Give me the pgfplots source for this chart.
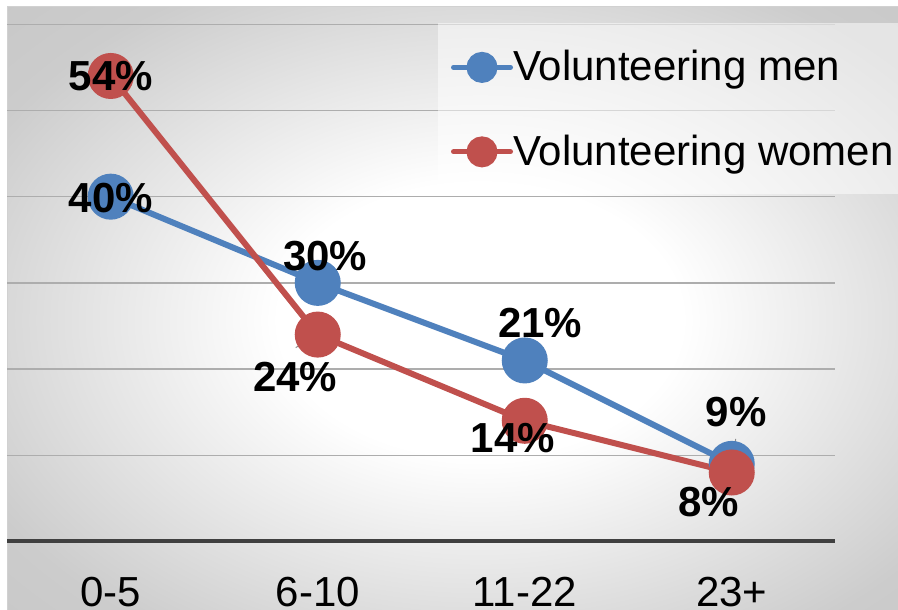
\documentclass[border=0pt]{standalone}
\usepackage{pgfplots}
\usepackage{pgfplotstable}
\pgfplotsset{compat=1.18}
\usepackage{fontspec}
\setmainfont{Liberation Sans}

\definecolor{menblue}{RGB}{79,129,189}
\definecolor{womenred}{RGB}{192,80,77}

% soft grey-to-white background of the chart area
\pgfdeclareradialshading{chartbg}{\pgfpoint{0bp}{0bp}}{%
  color(0bp)=(white); color(9bp)=(white); color(25bp)=(black!20); color(50bp)=(black!28)}

% x = category index, y = share, dx/dy = label offset from the marker (pt)
\pgfplotstableread{
x y dx dy
0 0.40 0 -1
1 0.30 7.5 26.5
2 0.21 15.5 37
3 0.09 4.5 52
}\mentable
\pgfplotstableread{
x y dx dy
0 0.54 0 0
1 0.24 -22.5 -42
2 0.14 -12 -17
3 0.08 -23 -30
}\womentable

\newcommand{\bigfont}{\fontsize{42}{50}\selectfont}

\begin{document}
\begin{tikzpicture}[x=1pt,y=1pt]
\useasboundingbox (0,0) rectangle (898,610);
\clip (0,0) rectangle (898,610);
\fill[white] (0,0) rectangle (898,610);
\begin{scope}
  \clip (7,0) rectangle (898,603);
  \shade[shading=chartbg] (-80,-90) rectangle (1040,670);
\end{scope}
\draw[black!18, line width=1pt] (7,0) -- (7,603) -- (898,603);

\begin{axis}[
  at={(3.5,79.5)}, anchor=south west, scale only axis,
  width=828pt, height=517.2pt,
  xmin=-0.5, xmax=3.5, ymin=0, ymax=0.6,
  axis line style={draw=none},
  /pgf/number format/assume math mode=true,
  xtick={0,1,2,3}, xticklabels={0-5,6-10,11-22,23+},
  ytick={0.1,0.2,0.3,0.4,0.5,0.6}, yticklabels={},
  ymajorgrids, grid style={black!32, line width=1.5pt},
  major tick length=0pt,
  extra y ticks={0}, extra y tick labels={},
  extra y tick style={grid style={black!75, line width=4pt}},
  xticklabel style={font=\bigfont, anchor=base, yshift=-65pt},
  clip=false,
  legend style={at={(0.52,1.002)}, anchor=north west,
    fill=white, fill opacity=0.5, text opacity=1, draw=none,
    font=\bigfont, inner xsep=13pt, inner ysep=27pt, row sep=52pt,
    nodes={inner sep=0pt}},
  legend cell align=left,
]
\addplot[menblue, line width=6pt, mark=*, mark size=20pt,
  mark options={draw=none, fill=menblue},
  point meta={100*\thisrow{y}},
  visualization depends on={\thisrow{dx} \as \labeldx},
  visualization depends on={\thisrow{dy} \as \labeldy},
  nodes near coords={\pgfmathprintnumber[fixed,precision=0,assume math mode=true]{\pgfplotspointmeta}\%},
  nodes near coords style={anchor=center, text=black, font=\bfseries\bigfont,
    xshift=\labeldx pt, yshift=\labeldy pt, inner sep=0pt},
  legend image code/.code={
    \draw[menblue, line width=5pt, line cap=round, opacity=1] (0pt,-1pt) -- (57pt,-1pt);
    \fill[menblue, opacity=1] (28.5pt,-1pt) circle[radius=12.5pt];}
] table[x=x, y=y] {\mentable};
\addlegendentry{Volunteering men}

\addplot[womenred, line width=6pt, mark=*, mark size=20pt,
  mark options={draw=none, fill=womenred},
  point meta={100*\thisrow{y}},
  visualization depends on={\thisrow{dx} \as \labeldx},
  visualization depends on={\thisrow{dy} \as \labeldy},
  nodes near coords={\pgfmathprintnumber[fixed,precision=0,assume math mode=true]{\pgfplotspointmeta}\%},
  nodes near coords style={anchor=center, text=black, font=\bfseries\bigfont,
    xshift=\labeldx pt, yshift=\labeldy pt, inner sep=0pt},
  legend image code/.code={
    \draw[womenred, line width=5pt, line cap=round, opacity=1] (0pt,-1pt) -- (57pt,-1pt);
    \fill[womenred, opacity=1] (28.5pt,-1pt) circle[radius=12.5pt];}
] table[x=x, y=y] {\womentable};
\addlegendentry{Volunteering women}

% leader lines of the two offset labels
\draw[black!45, line width=1pt] (axis cs:1,0.24) -- ++(-22pt,-13pt);
\draw[black!45, line width=1pt] (axis cs:3,0.09) -- ++(4pt,25pt);
\end{axis}
\end{tikzpicture}
\end{document}
